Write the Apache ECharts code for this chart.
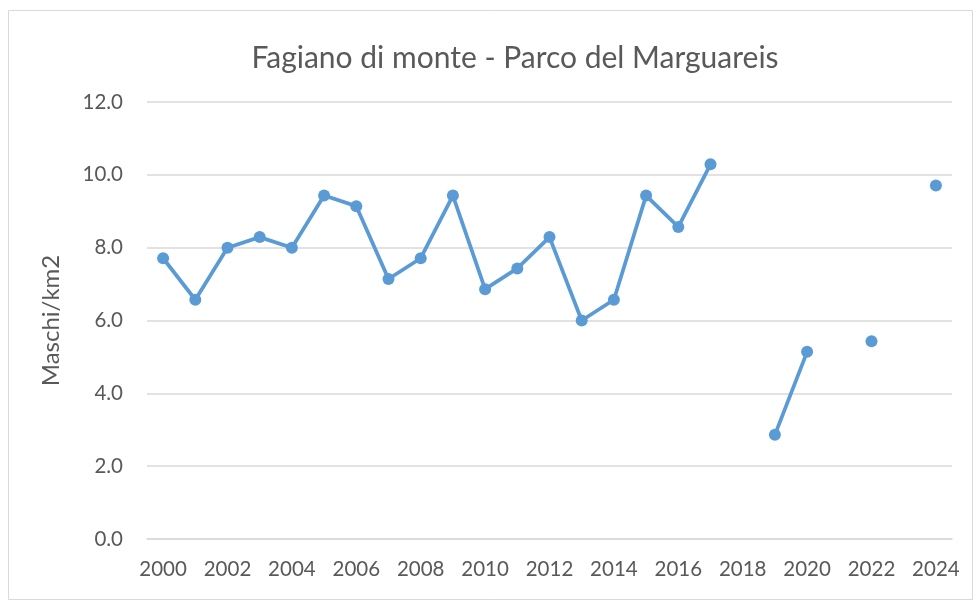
<!DOCTYPE html>
<html>
<head>
<meta charset="utf-8">
<script src="https://cdn.jsdelivr.net/npm/echarts@6/dist/echarts.min.js"></script>
<style>
html,body{margin:0;padding:0;background:#fff;}
#chart{width:980px;height:603px;}
</style>
</head>
<body>
<div id="chart"></div>
<script>
var years = ['2000','2001','2002','2003','2004','2005','2006','2007','2008','2009','2010','2011','2012','2013','2014','2015','2016','2017','2018','2019','2020','2021','2022','2023','2024'];
var density = [7.71, 6.57, 8.00, 8.29, 8.00, 9.43, 9.14, 7.14, 7.71, 9.43, 6.86, 7.43, 8.29, 6.00, 6.57, 9.43, 8.57, 10.29, null, 2.86, 5.14, null, 5.43, null, 9.71];
var titleText = 'Fagiano di monte - Parco del Marguareis';
var yAxisName = 'Maschi/km2';

var chart = echarts.init(document.getElementById('chart'), null, {renderer: 'canvas'});
var font = 'Lato';
chart.setOption({
  backgroundColor: '#ffffff',
  animation: false,
  title: {
    text: titleText,
    left: 510,
    top: 38,
    textAlign: 'center',
    textStyle: {fontFamily: font, fontSize: 30, fontWeight: 'normal', color: '#595959'}
  },
  graphic: [{
    type: 'rect',
    shape: {x: 8.5, y: 10.5, width: 964, height: 589},
    style: {fill: 'none', stroke: '#d9d9d9', lineWidth: 1},
    silent: true, z: -1
  }],
  grid: {left: 147, right: 28, top: 102, bottom: 64, containLabel: false},
  xAxis: {
    type: 'category',
    data: years,
    boundaryGap: true,
    axisLine: {show: true, lineStyle: {color: '#d9d9d9', width: 1.5}},
    axisTick: {show: false},
    axisLabel: {interval: 1, margin: 20, fontFamily: font, fontSize: 20.5, color: '#595959'},
    splitLine: {show: false}
  },
  yAxis: {
    type: 'value',
    min: 0, max: 12, interval: 2,
    name: yAxisName,
    nameLocation: 'middle',
    nameGap: 84,
    nameTextStyle: {fontFamily: font, fontSize: 24, color: '#595959'},
    axisLine: {show: false},
    axisTick: {show: false},
    axisLabel: {margin: 24, fontFamily: font, fontSize: 20.5, color: '#595959', formatter: function(v){return v.toFixed(1);}},
    splitLine: {lineStyle: {color: '#d9d9d9', width: 1.5}}
  },
  series: [{
    type: 'line',
    data: density,
    connectNulls: false,
    showSymbol: true,
    symbol: 'circle',
    symbolSize: 12,
    lineStyle: {color: '#5b9bd5', width: 3.75},
    itemStyle: {color: '#5b9bd5'}
  }]
});
</script>
</body>
</html>
